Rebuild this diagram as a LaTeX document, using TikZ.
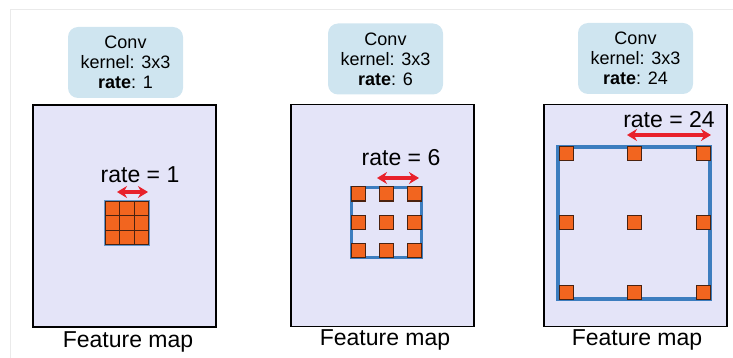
\documentclass[tikz,border=0pt]{standalone}
\usepackage{fontspec}
\setmainfont{Liberation Sans}
\usetikzlibrary{arrows.meta}
\definecolor{fmfill}{HTML}{E4E4F8}
\definecolor{convfill}{HTML}{CFE5F0}
\definecolor{korange}{HTML}{F2651F}
\definecolor{kedge}{HTML}{4A2210}
\definecolor{kblue}{HTML}{3C7DBF}
\definecolor{kred}{HTML}{E8212B}
\definecolor{faint}{HTML}{EAEAEA}
\tikzset{
  fmap/.style={draw=black, line width=1.9pt, fill=fmfill, minimum width=183pt, minimum height=222pt, inner sep=0pt},
  convbox/.style={fill=convfill, rounded corners=10pt, minimum width=115pt, minimum height=71pt, inner sep=0pt, align=center, font=\fontsize{18}{20}\selectfont},
  ratelbl/.style={font=\fontsize{23}{26}\selectfont, inner sep=0pt},
  fmlbl/.style={font=\fontsize{23}{26}\selectfont, inner sep=0pt},
  cell/.style={fill=korange, draw=kedge, line width=1pt, minimum size=14pt, inner sep=0pt},
  gcell/.style={fill=korange, draw=kedge, line width=1.3pt, minimum size=14.67pt, inner sep=0pt},
  rfield/.style={draw=kblue, line width=3.6pt, inner sep=0pt},
  rarrow/.style={draw=kred, line width=3.2pt, {Stealth[length=10pt,width=12pt]}-{Stealth[length=10pt,width=12pt]}}
}
\begin{document}
\begin{tikzpicture}[x=1pt,y=-1pt]
\useasboundingbox (0,0) rectangle (733,358);
\coordinate (fa) at (10,358);
\coordinate (fb) at (10,10);
\coordinate (fc) at (733,10);
\draw[faint, line width=1pt] (fa) -- (fb) -- (fc);

% ---------- Panel 1 ----------
\node[fmap] (fm1) at (124.5,216) {};
\node[convbox] (conv1) at (125.5,62.5) {Conv\\kernel: 3x3\\\textbf{rate}: 1};
\node[ratelbl] (r1) at (140,175) {rate = 1};
\node[fmlbl] (f1) at (128,342) {Feature map};
\foreach \i in {0,1,2}{
  \foreach \j in {0,1,2}{
    \node[gcell] (g1-\i-\j) at ({112.3+14.67*\i},{208.3+14.67*\j}) {};
  }
}
\node[draw=kblue!80, line width=1.4pt, inner sep=0pt, minimum size=44.5pt] (k1) at (127,223) {};
\coordinate (a1l) at (117,192);
\coordinate (a1r) at (148,192);
\draw[rarrow] (a1l) -- (a1r);

% ---------- Panel 2 ----------
\node[fmap] (fm2) at (382.5,215.5) {};
\node[convbox] (conv2) at (385.5,59) {Conv\\kernel: 3x3\\\textbf{rate}: 6};
\node[ratelbl] (r2) at (401,158) {rate = 6};
\node[fmlbl] (f2) at (385,340) {Feature map};
\node[rfield, minimum size=70pt] (k2) at (386.5,222.5) {};
\foreach \x [count=\i] in {358,386,414}{
  \foreach \y [count=\j] in {194,222,250}{
    \node[cell] (c2-\i-\j) at (\x,\y) {};
  }
}
\coordinate (a2l) at (377,178);
\coordinate (a2r) at (419,178);
\draw[rarrow] (a2l) -- (a2r);

% ---------- Panel 3 ----------
\node[fmap] (fm3) at (635.5,215.5) {};
\node[convbox] (conv3) at (635.5,58.5) {Conv\\kernel: 3x3\\\textbf{rate}: 24};
\node[ratelbl] (r3) at (669,120) {rate = 24};
\node[fmlbl] (f3) at (637,340) {Feature map};
\node[rfield, minimum width=152pt, minimum height=152pt] (k3) at (634,223) {};
\foreach \x [count=\i] in {566,634,703}{
  \foreach \y [count=\j] in {154,222,292}{
    \node[cell] (c3-\i-\j) at (\x,\y) {};
  }
}
\coordinate (a3l) at (627,135);
\coordinate (a3r) at (711,135);
\draw[rarrow] (a3l) -- (a3r);
\end{tikzpicture}
\end{document}
